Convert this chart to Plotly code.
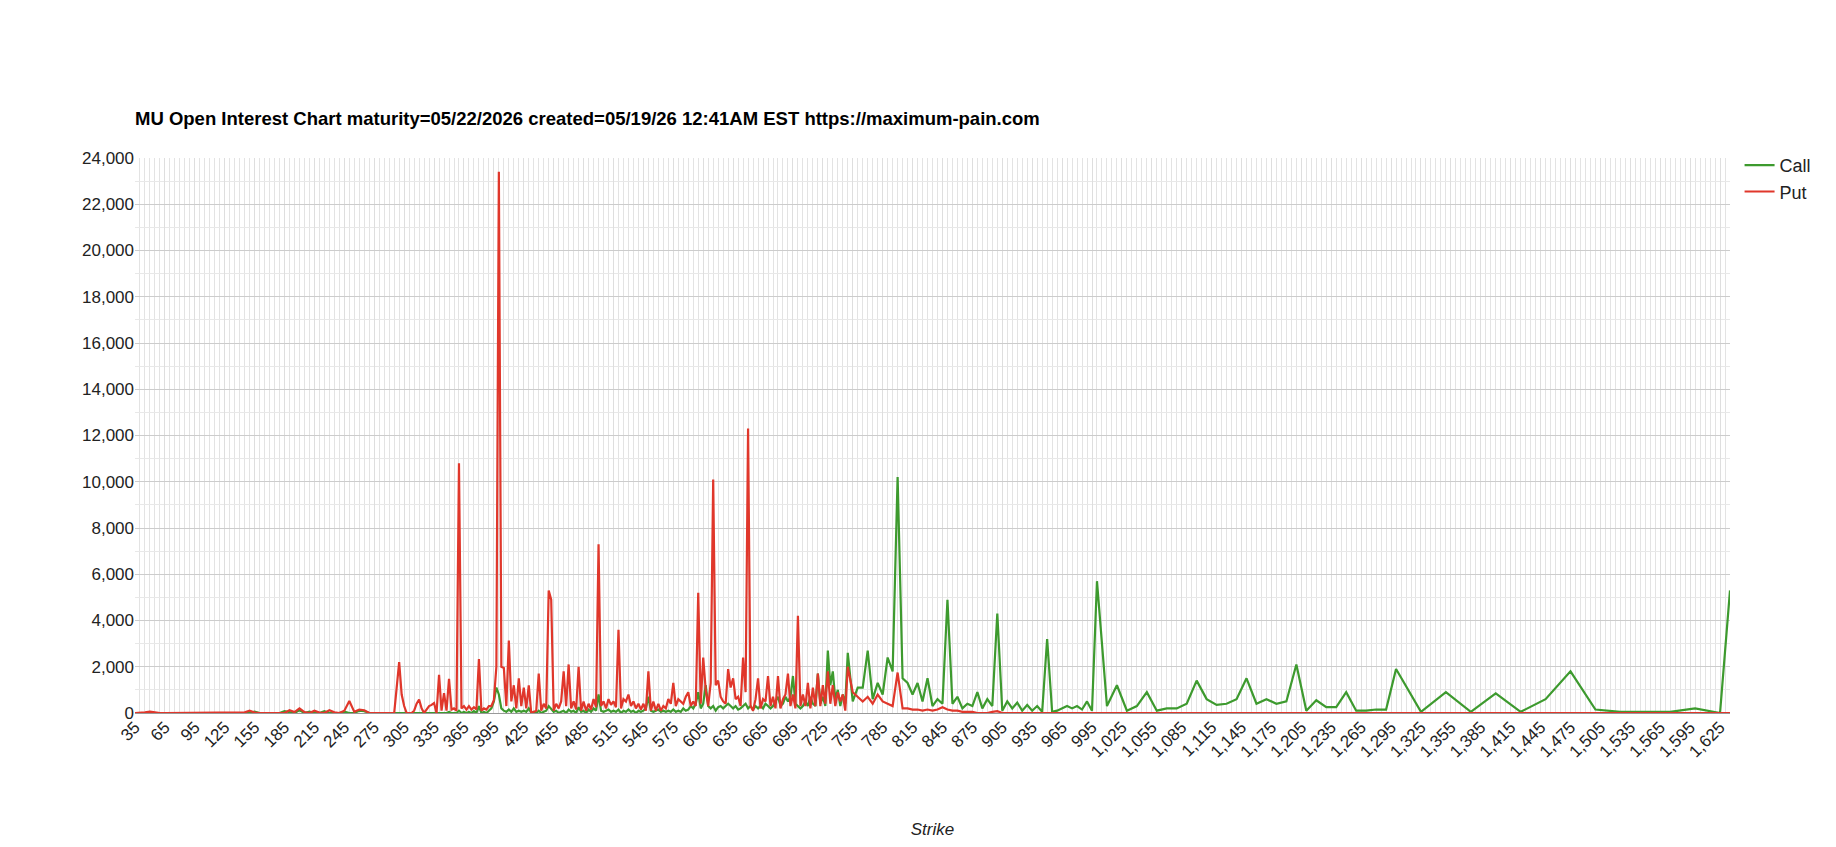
import numpy as np
import plotly.graph_objects as go

# strike grid: 5 wide at the low end, 2.5 in the busy middle, wider on top
strikes_low = np.arange(35, 301, 5)          # 35 .. 300
strikes_mid = np.arange(302.5, 750.1, 2.5)   # 302.5 .. 750
strikes_up = np.arange(755, 1001, 5)         # 755 .. 1000
strikes_hi = np.arange(1010, 1301, 10)       # 1010 .. 1300
strikes_top = np.arange(1325, 1626, 25)      # 1325 .. 1625
strikes_last = [1635]

put_low = [0, 0, 30, 60, 20, 0,
           0, 0, 0, 0, 0, 0,
           20, 0, 0, 0, 0, 0,
           0, 0, 0, 0, 30, 100,
           20, 0, 0, 0, 0, 0,
           0, 120, 40, 200, 40, 0,
           100, 20, 0, 120, 30, 0,
           100, 520, 50, 150, 120, 0,
           0, 0, 0, 0, 0, 2200]
call_low = [0, 0, 0, 0, 0, 0,
            0, 0, 0, 0, 0, 0,
            0, 0, 0, 0, 0, 0,
            0, 0, 0, 0, 0, 0,
            60, 0, 0, 0, 0, 0,
            80, 30, 0, 120, 0, 60,
            0, 0, 80, 0, 0, 0,
            60, 0, 0, 100, 80, 0,
            0, 0, 0, 0, 0, 0]

put_mid = [800, 300, 0, 0, 0, 100, 400, 580, 200, 0, 150, 300,
           350, 430, 0, 1650, 100, 860, 100, 1480, 150, 200, 100, 10800,
           200, 300, 150, 300, 150, 250, 150, 2330, 100, 200, 150, 300,
           300, 550, 2000, 23400, 2000, 1950, 300, 3130, 500, 1200, 200, 1500,
           300, 1100, 200, 1200, 0, 50, 100, 1700, 100, 400, 200, 5300,
           4900, 100, 400, 200, 500, 1800, 300, 2100, 200, 500, 150, 2000,
           100, 500, 100, 400, 150, 600, 250, 7300, 300, 500, 200, 600,
           350, 500, 250, 3600, 200, 600, 500, 800, 300, 500, 200, 400,
           150, 400, 100, 1800, 100, 500, 100, 400, 100, 300, 200, 600,
           400, 1300, 300, 600, 500, 400, 700, 900, 300, 500, 300, 5200,
           400, 2400, 1000, 300, 1300, 10100, 1200, 1400, 700, 500, 400, 1900,
           1100, 1500, 600, 700, 300, 2400, 900, 12300, 300, 100, 600, 1500,
           200, 600, 500, 1600, 300, 700, 200, 1600, 200, 600, 800, 1700,
           300, 800, 200, 4200, 300, 800, 300, 1300, 200, 1100, 300, 1700,
           300, 1200, 400, 1800, 400, 1200, 300, 900, 500, 800, 100, 2000]
call_mid = [0, 0, 0, 0, 0, 0, 0, 0, 0, 0, 0, 20,
            0, 0, 0, 0, 0, 30, 0, 50, 0, 0, 0, 100,
            0, 50, 0, 50, 0, 80, 0, 300, 0, 50, 0, 100,
            200, 500, 1100, 800, 200, 100, 50, 150, 50, 200, 50, 100,
            50, 100, 50, 200, 0, 50, 0, 100, 0, 50, 100, 300,
            150, 50, 100, 0, 50, 100, 0, 150, 50, 100, 0, 250,
            50, 100, 0, 150, 50, 200, 100, 800, 100, 50, 100, 150,
            50, 100, 50, 150, 0, 100, 50, 150, 50, 100, 0, 100,
            50, 100, 200, 700, 100, 50, 100, 150, 50, 100, 50, 100,
            50, 150, 50, 100, 50, 200, 100, 150, 300, 200, 400, 900,
            200, 400, 1200, 300, 200, 300, 100, 250, 300, 200, 300, 400,
            300, 200, 300, 150, 200, 300, 400, 200, 300, 150, 300, 200,
            300, 200, 400, 300, 200, 300, 500, 700, 300, 400, 700, 500,
            700, 1600, 400, 300, 200, 300, 500, 300, 700, 400, 300, 1700,
            400, 700, 300, 2700, 1200, 1800, 600, 1000, 300, 800, 400, 2600]

put_up = [900, 700, 500, 700, 400, 800,
          500, 400, 300, 1750, 200, 200,
          150, 150, 100, 150, 100, 150,
          250, 150, 100, 100, 50, 50,
          50, 0, 0, 0, 50, 80,
          0, 0, 0, 0, 0, 0,
          0, 0, 0, 30, 0, 0,
          0, 0, 0, 0, 0, 0,
          0, 30]
call_up = [500, 1100, 1100, 2700, 600, 1300,
           800, 2400, 1800, 10200, 1500, 1300,
           800, 1300, 500, 1500, 300, 600,
           400, 4900, 400, 700, 200, 400,
           300, 900, 200, 600, 300, 4300,
           100, 500, 200, 450, 100, 350,
           100, 300, 50, 3200, 50, 100,
           200, 300, 200, 300, 150, 500,
           100, 5700]

put_hi = [0] * 30
call_hi = [300, 1200, 100, 300, 900, 100, 200, 200, 400, 1400,
           600, 350, 400, 600, 1500, 400, 600, 400, 500, 2100,
           100, 550, 250, 250, 900, 100, 100, 150, 150, 1900]

put_top = [0, 0, 0, 0, 0, 0, 0, 0, 0, 0, 0, 0, 0]
call_top = [50, 900, 50, 850, 50, 600, 1800, 150, 50, 50, 50, 200, 0]

put_last = [0]
call_last = [5300]

strikes = np.concatenate([strikes_low, strikes_mid, strikes_up,
                          strikes_hi, strikes_top, strikes_last])
calls = call_low + call_mid + call_up + call_hi + call_top + call_last
puts = put_low + put_mid + put_up + put_hi + put_top + put_last

label_strikes = list(range(35, 1626, 30))

font = "Liberation Sans, Arial, sans-serif"

fig = go.Figure()
fig.add_trace(go.Scatter(x=strikes, y=calls, name="Call", mode="lines",
                         line=dict(color="#3d9a2e", width=2.2)))
fig.add_trace(go.Scatter(x=strikes, y=puts, name="Put", mode="lines",
                         line=dict(color="#e0372b", width=2.2)))

fig.update_layout(
    width=1836,
    height=847,
    paper_bgcolor="white",
    plot_bgcolor="white",
    font=dict(family=font, size=17, color="#222222"),
    margin=dict(l=127, r=114, t=150, b=142),
    title=dict(
        text="<b>MU Open Interest Chart maturity=05/22/2026 created=05/19/26 12:41AM EST https://maximum-pain.com</b>",
        x=127 / 1836, xanchor="left",
        y=1 - 111 / 847, yanchor="middle",
        font=dict(family=font, size=18.5, color="#000000"),
    ),
    legend=dict(
        x=1.006, xanchor="left", y=1.02, yanchor="top",
        font=dict(family=font, size=18, color="#222222"),
        bgcolor="rgba(0,0,0,0)",
    ),
    showlegend=True,
)

fig.update_xaxes(
    range=[35, 1635],
    tickmode="array",
    tickvals=label_strikes,
    tickformat=",",
    tickangle=-45,
    ticks="",
    showgrid=True,
    gridcolor="#dedede",
    gridwidth=1,
    minor=dict(tick0=35, dtick=5, showgrid=True, gridcolor="#e3e3e3", gridwidth=1),
    zeroline=False,
    showline=False,
    tickfont=dict(family=font, size=17, color="#222222"),
    title=dict(text="<i>Strike</i>", standoff=62,
               font=dict(family=font, size=17, color="#222222")),
)

fig.update_yaxes(
    range=[0, 24000],
    dtick=2000,
    tickformat=",",
    showgrid=True,
    gridcolor="#cccccc",
    gridwidth=1,
    minor=dict(dtick=1000, showgrid=True, gridcolor="#e8e8e8", gridwidth=1),
    zeroline=True,
    zerolinecolor="#999999",
    zerolinewidth=1,
    ticks="",
    tickfont=dict(family=font, size=17, color="#222222"),
)

fig.write_html("out.html")
